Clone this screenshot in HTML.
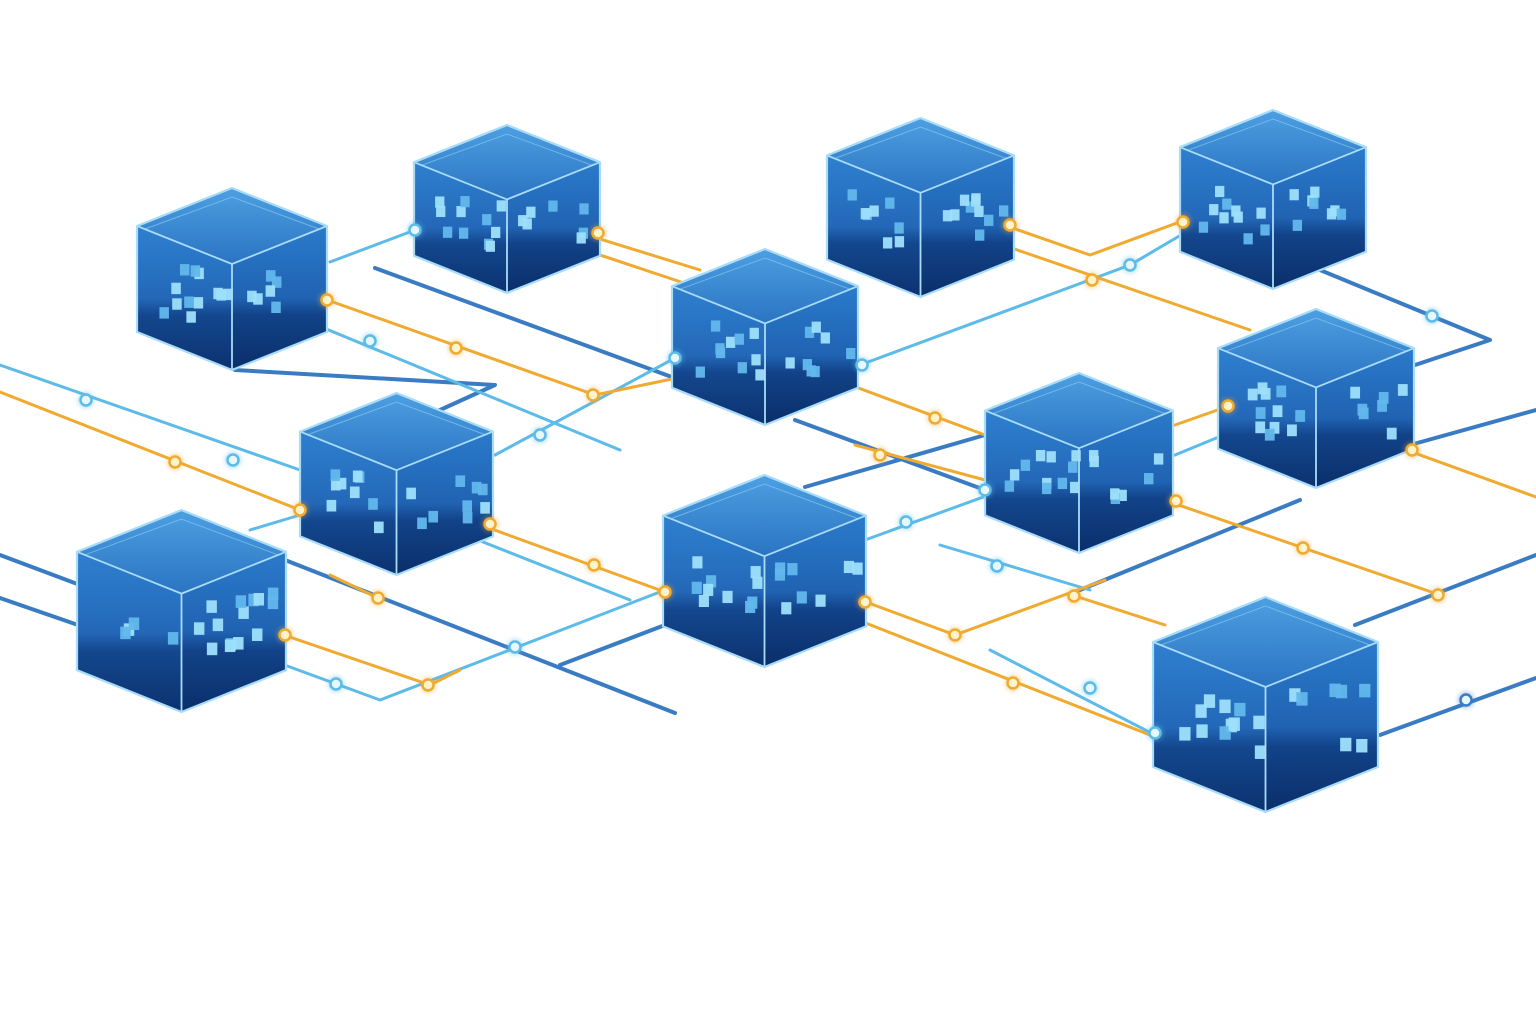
<!DOCTYPE html>
<html><head><meta charset="utf-8"><style>
html,body{margin:0;padding:0;background:#fff;width:1536px;height:1024px;overflow:hidden}
svg{display:block}
</style></head><body>
<svg id="s" width="1536" height="1024" viewBox="0 0 1536 1024" xmlns="http://www.w3.org/2000/svg">
<defs>
<linearGradient id="top" x1="0" y1="0" x2="0" y2="1"><stop offset="0" stop-color="#4d9fe2"/><stop offset="1" stop-color="#2b74c2"/></linearGradient>
<linearGradient id="lf" x1="0" y1="0" x2="0" y2="1"><stop offset="0" stop-color="#2f80d0"/><stop offset="0.5" stop-color="#2468b8"/><stop offset="0.62" stop-color="#14478e"/><stop offset="1" stop-color="#0b3270"/></linearGradient>
<linearGradient id="rf" x1="0" y1="0" x2="0" y2="1"><stop offset="0" stop-color="#2b7acb"/><stop offset="0.5" stop-color="#2063b2"/><stop offset="0.62" stop-color="#124288"/><stop offset="1" stop-color="#0a2f6a"/></linearGradient>
<filter id="gl" x="-1" y="-1" width="3" height="3"><feGaussianBlur stdDeviation="2.5"/></filter>
</defs>
<g id="lines"></g><g id="cubes"></g><g id="nodes"></g>
</svg>
<script>
const NS="http://www.w3.org/2000/svg";
function el(t,a,p){const e=document.createElementNS(NS,t);for(const k in a)e.setAttribute(k,a[k]);document.getElementById(p).appendChild(e);return e;}
const C={d:"#3a7cc4",l:"#5cbbe8",o:"#f0aa30"};
const lines=[
 ["l",[[0,365],[300,470]]],["d",[[0,555],[80,585]]],["d",[[0,598],[78,625]]],
 ["d",[[235,370],[495,385],[440,410]]],["d",[[375,268],[680,380]]],["l",[[330,262],[415,230]]],
 ["d",[[285,560],[675,713]]],["d",[[560,665],[665,625]]],["d",[[795,420],[985,490]]],
 ["d",[[805,487],[985,435]]],["d",[[1320,270],[1490,340],[1415,365]]],["d",[[1410,445],[1536,410]]],
 ["d",[[1380,735],[1536,678]]],["d",[[1355,625],[1536,555]]],["d",[[1080,590],[1300,500]]],
 ["l",[[860,365],[1130,265],[1215,215]]],["l",[[495,455],[675,358]]],
 ["l",[[230,645],[380,700],[665,590]]],["l",[[440,525],[630,600]]],["l",[[865,540],[1030,480]]],
 ["l",[[940,545],[1090,590]]],["l",[[990,650],[1155,735]]],["l",[[1175,455],[1260,420]]],
 ["l",[[250,530],[300,515]]],["l",[[285,312],[620,450]]],
 ["o",[[0,392],[300,510]]],["o",[[285,285],[595,395],[715,370]]],["o",[[555,225],[700,270]]],
 ["o",[[555,240],[690,285]]],["o",[[975,215],[1090,255],[1185,220]]],["o",[[965,232],[1250,330]]],
 ["o",[[810,370],[985,435]]],["o",[[445,512],[665,592]]],["o",[[240,620],[430,685],[460,670]]],
 ["o",[[330,575],[378,598]]],["o",[[820,585],[955,635],[1105,580]]],["o",[[820,605],[1150,735]]],
 ["o",[[1135,490],[1440,595]]],["o",[[1175,425],[1260,395]]],["o",[[1365,435],[1536,497]]],
 ["o",[[855,445],[985,480]]],["o",[[1075,596],[1165,625]]]
];
lines.forEach(([c,pts])=>el("polyline",{points:pts.map(p=>p.join(",")).join(" "),fill:"none",stroke:C[c],"stroke-width":c=="d"?4:3,"stroke-linecap":"round","stroke-linejoin":"round"},"lines"));
const cubes=[[137,188,190,182],[414,125,186,168],[672,249,186,176],[827,118,187,179],[1180,110,186,179],[1218,309,196,179],[985,373,188,180],[300,393,193,182],[663,475,203,192],[77,510,209,202],[1153,597,225,215]];
let seed=7;function rnd(){seed=(seed*9301+49297)%233280;return seed/233280;}
cubes.forEach(([x,y,w,h])=>{
 const hw=w/2,cx=x+hw,d=w*0.2,L=[x,y+d],T=[cx,y],R=[x+w,y+d],F=[cx,y+2*d],sh=h-2*d;
 const LB=[x,y+d+sh],FB=[cx,y+h],RB=[x+w,y+d+sh];
 const P=a=>a.map(p=>p.join(",")).join(" ");
 el("polygon",{points:P([L,F,FB,LB]),fill:"url(#lf)"},"cubes");
 el("polygon",{points:P([F,R,RB,FB]),fill:"url(#rf)"},"cubes");
 el("polygon",{points:P([L,T,R,F]),fill:"url(#top)"},"cubes");
 el("polyline",{points:P([[x+8,y+d+3],[cx,y+9],[x+w-8,y+d+3]]),fill:"none",stroke:"#8fd0f5","stroke-width":1,opacity:.6},"cubes");
 for(let i=0;i<18;i++){const s=w*0.05;const side=rnd()<.5;
  const fx=side?x+w*0.1+rnd()*hw*0.72:cx+w*0.05+rnd()*hw*0.78;
  const fy=y+2*d+sh*0.02+rnd()*sh*0.5+(side?-(cx-fx)*0.12:-(fx-cx)*0.12);
  el("rect",{x:fx,y:fy,width:s,height:s*1.2,fill:rnd()<.5?"#9ee0fc":"#62b8ec",opacity:.95},"cubes");}
 el("polygon",{points:P([L,T,R,RB,FB,LB]),fill:"none",stroke:"#a8dcf8","stroke-width":2.2,"stroke-linejoin":"round"},"cubes");
 el("polyline",{points:P([L,F,R]),fill:"none",stroke:"#a8dcf8","stroke-width":1.8},"cubes");
 el("line",{x1:F[0],y1:F[1],x2:FB[0],y2:FB[1],stroke:"#a8dcf8","stroke-width":1.8},"cubes");
});
const nodes=[["l",86,400],["l",233,460],["l",415,230],["l",370,341],["l",862,365],["l",1130,265],["l",540,435],["l",675,358],
 ["l",336,684],["l",515,647],["l",906,522],["l",985,490],["l",997,566],["l",1090,688],["l",1155,733],["l",1432,316],["d",1466,700],
 ["o",175,462],["o",300,510],["o",327,300],["o",456,348],["o",593,395],["o",598,233],["o",1010,225],["o",1183,222],["o",1092,280],
 ["o",935,418],["o",490,524],["o",594,565],["o",665,592],["o",285,635],["o",428,685],["o",378,598],["o",865,602],["o",955,635],
 ["o",1074,596],["o",1013,683],["o",1176,501],["o",1303,548],["o",1438,595],["o",1228,406],["o",1412,450],["o",880,455]];
nodes.forEach(([c,x,y])=>{
 el("circle",{cx:x,cy:y,r:8,fill:C[c],opacity:.45,filter:"url(#gl)"},"nodes");
 el("circle",{cx:x,cy:y,r:5.5,fill:c=="o"?"#fff3cc":"#e6f7ff",stroke:C[c],"stroke-width":2.5},"nodes");
});
</script>
</body></html>
